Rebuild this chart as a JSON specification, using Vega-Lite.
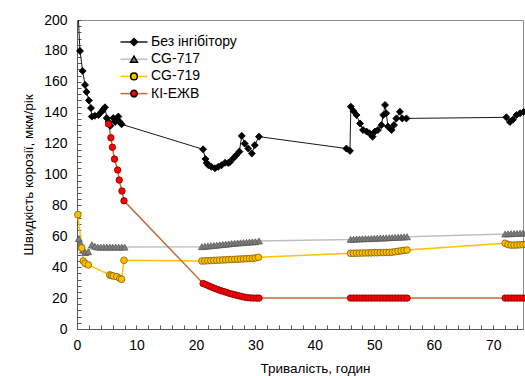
{
"$schema": "https://vega.github.io/schema/vega-lite/v6.json",
"width": 446, "height": 309,
"autosize": {"type": "none"},
"padding": {"left": 77, "top": 20, "right": 2, "bottom": 47},
"config": {
  "view": {"stroke": "#8c8c8c", "strokeWidth": 1},
  "font": "Liberation Sans",
  "legend": {"title": null, "padding": 0, "rowPadding": 3.2, "labelFontSize": 14, "labelFont": "Liberation Sans", "labelColor": "#000000", "orient": "none", "legendX": 50, "legendY": 15}
},
"data": {"values": [
{"s":"Без інгібітору","t":0.05,"v":215},{"s":"Без інгібітору","t":0.5,"v":180},{"s":"Без інгібітору","t":0.95,"v":167},{"s":"Без інгібітору","t":1.35,"v":158},{"s":"Без інгібітору","t":1.6,"v":153.5},{"s":"Без інгібітору","t":2.0,"v":148},{"s":"Без інгібітору","t":2.35,"v":143},{"s":"Без інгібітору","t":2.5,"v":137.5},{"s":"Без інгібітору","t":3.0,"v":138},{"s":"Без інгібітору","t":3.6,"v":138.5},{"s":"Без інгібітору","t":4.1,"v":140.5},{"s":"Без інгібітору","t":4.4,"v":142},{"s":"Без інгібітору","t":4.7,"v":143.5},{"s":"Без інгібітору","t":5.0,"v":136.5},{"s":"Без інгібітору","t":5.3,"v":134},{"s":"Без інгібітору","t":5.6,"v":131.5},{"s":"Без інгібітору","t":6.1,"v":136.5},{"s":"Без інгібітору","t":6.4,"v":134},{"s":"Без інгібітору","t":6.7,"v":135.5},{"s":"Без інгібітору","t":6.95,"v":137.5},{"s":"Без інгібітору","t":7.2,"v":134},{"s":"Без інгібітору","t":7.5,"v":132.5},
{"s":"Без інгібітору","t":21.2,"v":116.3},{"s":"Без інгібітору","t":21.6,"v":110},{"s":"Без інгібітору","t":21.8,"v":107.5},{"s":"Без інгібітору","t":22.1,"v":106},{"s":"Без інгібітору","t":22.6,"v":105},{"s":"Без інгібітору","t":23.2,"v":104},{"s":"Без інгібітору","t":23.75,"v":105},{"s":"Без інгібітору","t":24.3,"v":106},{"s":"Без інгібітору","t":24.9,"v":107.6},{"s":"Без інгібітору","t":25.4,"v":107.5},{"s":"Без інгібітору","t":25.7,"v":108},{"s":"Без інгібітору","t":26.3,"v":110.5},{"s":"Без інгібітору","t":26.8,"v":112.6},{"s":"Без інгібітору","t":27.3,"v":114.8},{"s":"Без інгібітору","t":27.7,"v":125},{"s":"Без інгібітору","t":28.2,"v":120},{"s":"Без інгібітору","t":28.8,"v":116.8},{"s":"Без інгібітору","t":29.4,"v":113.6},{"s":"Без інгібітору","t":29.9,"v":119},{"s":"Без інгібітору","t":30.6,"v":124.5},
{"s":"Без інгібітору","t":45.3,"v":116.8},{"s":"Без інгібітору","t":45.9,"v":115.3},{"s":"Без інгібітору","t":46.05,"v":143.9},{"s":"Без інгібітору","t":46.5,"v":141},{"s":"Без інгібітору","t":47.0,"v":138.5},{"s":"Без інгібітору","t":47.6,"v":133},{"s":"Без інгібітору","t":48.1,"v":128.8},{"s":"Без інгібітору","t":48.7,"v":127.8},{"s":"Без інгібітору","t":49.2,"v":126.6},{"s":"Без інгібітору","t":49.7,"v":124.5},{"s":"Без інгібітору","t":50.1,"v":127.8},{"s":"Без інгібітору","t":50.6,"v":128.8},{"s":"Без інгібітору","t":51.2,"v":132},{"s":"Без інгібітору","t":51.5,"v":138.5},{"s":"Без інгібітору","t":51.8,"v":145},{"s":"Без інгібітору","t":52.0,"v":139.6},{"s":"Без інгібітору","t":52.3,"v":131},{"s":"Без інгібітору","t":52.9,"v":128.8},{"s":"Без інгібітору","t":53.3,"v":132},{"s":"Без інгібітору","t":53.7,"v":136.3},{"s":"Без інгібітору","t":54.3,"v":140.6},{"s":"Без інгібітору","t":54.7,"v":136.3},{"s":"Без інгібітору","t":55.4,"v":136.3},
{"s":"Без інгібітору","t":72.2,"v":137},{"s":"Без інгібітору","t":72.8,"v":134},{"s":"Без інгібітору","t":73.3,"v":135.5},{"s":"Без інгібітору","t":73.9,"v":138.5},{"s":"Без інгібітору","t":74.5,"v":139.6},{"s":"Без інгібітору","t":75.1,"v":140.5},
{"s":"CG-717","t":0.3,"v":58.5},{"s":"CG-717","t":0.6,"v":55.5},{"s":"CG-717","t":1.0,"v":51},{"s":"CG-717","t":1.4,"v":49.5},{"s":"CG-717","t":1.9,"v":50},{"s":"CG-717","t":2.5,"v":54.5},{"s":"CG-717","t":3.0,"v":53.5},{"s":"CG-717","t":3.5,"v":53},{"s":"CG-717","t":4.0,"v":53},{"s":"CG-717","t":4.5,"v":53},{"s":"CG-717","t":5.0,"v":53},{"s":"CG-717","t":5.5,"v":53},{"s":"CG-717","t":6.0,"v":53},{"s":"CG-717","t":6.5,"v":53},{"s":"CG-717","t":7.0,"v":53},{"s":"CG-717","t":7.5,"v":53},{"s":"CG-717","t":8.0,"v":53},
{"s":"CG-717","t":21.0,"v":53.3},{"s":"CG-717","t":21.5,"v":53.5},{"s":"CG-717","t":22.0,"v":53.7},{"s":"CG-717","t":22.5,"v":53.9},{"s":"CG-717","t":23.0,"v":54.1},{"s":"CG-717","t":23.5,"v":54.3},{"s":"CG-717","t":24.0,"v":54.5},{"s":"CG-717","t":24.5,"v":54.7},{"s":"CG-717","t":25.0,"v":54.9},{"s":"CG-717","t":25.5,"v":55.1},{"s":"CG-717","t":26.0,"v":55.3},{"s":"CG-717","t":26.5,"v":55.5},{"s":"CG-717","t":27.0,"v":55.7},{"s":"CG-717","t":27.5,"v":55.8},{"s":"CG-717","t":28.0,"v":56},{"s":"CG-717","t":28.5,"v":56.1},{"s":"CG-717","t":29.0,"v":56.3},{"s":"CG-717","t":29.5,"v":56.4},{"s":"CG-717","t":30.0,"v":56.5},{"s":"CG-717","t":30.6,"v":57},
{"s":"CG-717","t":46.0,"v":58},{"s":"CG-717","t":46.5,"v":58.1},{"s":"CG-717","t":47.0,"v":58.2},{"s":"CG-717","t":47.5,"v":58.3},{"s":"CG-717","t":48.0,"v":58.4},{"s":"CG-717","t":48.5,"v":58.5},{"s":"CG-717","t":49.0,"v":58.5},{"s":"CG-717","t":49.5,"v":58.6},{"s":"CG-717","t":50.0,"v":58.7},{"s":"CG-717","t":50.5,"v":58.8},{"s":"CG-717","t":51.0,"v":58.9},{"s":"CG-717","t":51.5,"v":58.9},{"s":"CG-717","t":52.0,"v":59},{"s":"CG-717","t":52.5,"v":59.1},{"s":"CG-717","t":53.0,"v":59.2},{"s":"CG-717","t":53.5,"v":59.3},{"s":"CG-717","t":54.0,"v":59.4},{"s":"CG-717","t":54.5,"v":59.5},{"s":"CG-717","t":55.0,"v":59.6},{"s":"CG-717","t":55.5,"v":59.7},
{"s":"CG-717","t":72.0,"v":61.5},{"s":"CG-717","t":72.5,"v":61.6},{"s":"CG-717","t":73.0,"v":61.7},{"s":"CG-717","t":73.5,"v":61.8},{"s":"CG-717","t":74.0,"v":61.9},{"s":"CG-717","t":74.5,"v":62},{"s":"CG-717","t":75.0,"v":62.1},{"s":"CG-717","t":75.5,"v":62.2},
{"s":"CG-719","t":0.15,"v":74},{"s":"CG-719","t":0.8,"v":52.5},{"s":"CG-719","t":1.06,"v":44},{"s":"CG-719","t":1.35,"v":42.5},{"s":"CG-719","t":1.9,"v":41.5},{"s":"CG-719","t":5.5,"v":35},{"s":"CG-719","t":5.8,"v":34.6},{"s":"CG-719","t":6.1,"v":34.3},{"s":"CG-719","t":6.7,"v":33.9},{"s":"CG-719","t":7.2,"v":32.8},{"s":"CG-719","t":7.5,"v":32.2},{"s":"CG-719","t":7.9,"v":44.5},
{"s":"CG-719","t":21.0,"v":44.0},{"s":"CG-719","t":21.5,"v":44.1},{"s":"CG-719","t":22.0,"v":44.2},{"s":"CG-719","t":22.5,"v":44.3},{"s":"CG-719","t":23.0,"v":44.4},{"s":"CG-719","t":23.5,"v":44.5},{"s":"CG-719","t":24.0,"v":44.6},{"s":"CG-719","t":24.5,"v":44.7},{"s":"CG-719","t":25.0,"v":44.8},{"s":"CG-719","t":25.5,"v":44.9},{"s":"CG-719","t":26.0,"v":45.0},{"s":"CG-719","t":26.5,"v":45.1},{"s":"CG-719","t":27.0,"v":45.2},{"s":"CG-719","t":27.5,"v":45.3},{"s":"CG-719","t":28.0,"v":45.4},{"s":"CG-719","t":28.5,"v":45.5},{"s":"CG-719","t":29.0,"v":45.6},{"s":"CG-719","t":29.5,"v":45.7},{"s":"CG-719","t":30.0,"v":46.0},{"s":"CG-719","t":30.5,"v":46.4},
{"s":"CG-719","t":46.0,"v":49.0},{"s":"CG-719","t":46.5,"v":49.0},{"s":"CG-719","t":47.0,"v":49.1},{"s":"CG-719","t":47.5,"v":49.1},{"s":"CG-719","t":48.0,"v":49.2},{"s":"CG-719","t":48.5,"v":49.2},{"s":"CG-719","t":49.0,"v":49.3},{"s":"CG-719","t":49.5,"v":49.3},{"s":"CG-719","t":50.0,"v":49.4},{"s":"CG-719","t":50.5,"v":49.4},{"s":"CG-719","t":51.0,"v":49.5},{"s":"CG-719","t":51.5,"v":49.5},{"s":"CG-719","t":52.0,"v":49.6},{"s":"CG-719","t":52.5,"v":49.6},{"s":"CG-719","t":53.0,"v":49.7},{"s":"CG-719","t":53.5,"v":50.0},{"s":"CG-719","t":54.0,"v":50.3},{"s":"CG-719","t":54.5,"v":50.6},{"s":"CG-719","t":55.0,"v":50.9},{"s":"CG-719","t":55.5,"v":51.1},
{"s":"CG-719","t":72.0,"v":55.5},{"s":"CG-719","t":72.5,"v":54.6},{"s":"CG-719","t":73.0,"v":54.3},{"s":"CG-719","t":73.5,"v":54.3},{"s":"CG-719","t":74.0,"v":54.4},{"s":"CG-719","t":74.5,"v":54.5},{"s":"CG-719","t":75.0,"v":54.6},{"s":"CG-719","t":75.5,"v":54.7},
{"s":"КІ-ЕЖВ","t":5.3,"v":132.7},{"s":"КІ-ЕЖВ","t":5.7,"v":123.8},{"s":"КІ-ЕЖВ","t":5.95,"v":117.6},{"s":"КІ-ЕЖВ","t":6.3,"v":110},{"s":"КІ-ЕЖВ","t":6.84,"v":102.9},{"s":"КІ-ЕЖВ","t":7.1,"v":96.4},{"s":"КІ-ЕЖВ","t":7.56,"v":89.3},{"s":"КІ-ЕЖВ","t":7.9,"v":83},
{"s":"КІ-ЕЖВ","t":21.2,"v":29.5},{"s":"КІ-ЕЖВ","t":21.7,"v":28.7},{"s":"КІ-ЕЖВ","t":22.2,"v":27.8},{"s":"КІ-ЕЖВ","t":22.7,"v":27},{"s":"КІ-ЕЖВ","t":23.2,"v":26.2},{"s":"КІ-ЕЖВ","t":23.7,"v":25.5},{"s":"КІ-ЕЖВ","t":24.2,"v":24.8},{"s":"КІ-ЕЖВ","t":24.7,"v":24.2},{"s":"КІ-ЕЖВ","t":25.2,"v":23.6},{"s":"КІ-ЕЖВ","t":25.7,"v":23},{"s":"КІ-ЕЖВ","t":26.2,"v":22.5},{"s":"КІ-ЕЖВ","t":26.7,"v":22},{"s":"КІ-ЕЖВ","t":27.2,"v":21.5},{"s":"КІ-ЕЖВ","t":27.7,"v":21},{"s":"КІ-ЕЖВ","t":28.2,"v":20.6},{"s":"КІ-ЕЖВ","t":28.7,"v":20.3},{"s":"КІ-ЕЖВ","t":29.2,"v":20.1},{"s":"КІ-ЕЖВ","t":29.7,"v":20},{"s":"КІ-ЕЖВ","t":30.2,"v":20},{"s":"КІ-ЕЖВ","t":30.6,"v":20},
{"s":"КІ-ЕЖВ","t":46.0,"v":20},{"s":"КІ-ЕЖВ","t":46.5,"v":20},{"s":"КІ-ЕЖВ","t":47.0,"v":20},{"s":"КІ-ЕЖВ","t":47.5,"v":20},{"s":"КІ-ЕЖВ","t":48.0,"v":20},{"s":"КІ-ЕЖВ","t":48.5,"v":20},{"s":"КІ-ЕЖВ","t":49.0,"v":20},{"s":"КІ-ЕЖВ","t":49.5,"v":20},{"s":"КІ-ЕЖВ","t":50.0,"v":20},{"s":"КІ-ЕЖВ","t":50.5,"v":20},{"s":"КІ-ЕЖВ","t":51.0,"v":20},{"s":"КІ-ЕЖВ","t":51.5,"v":20},{"s":"КІ-ЕЖВ","t":52.0,"v":20},{"s":"КІ-ЕЖВ","t":52.5,"v":20},{"s":"КІ-ЕЖВ","t":53.0,"v":20},{"s":"КІ-ЕЖВ","t":53.5,"v":20},{"s":"КІ-ЕЖВ","t":54.0,"v":20},{"s":"КІ-ЕЖВ","t":54.5,"v":20},{"s":"КІ-ЕЖВ","t":55.0,"v":20},{"s":"КІ-ЕЖВ","t":55.5,"v":20},
{"s":"КІ-ЕЖВ","t":72.0,"v":20},{"s":"КІ-ЕЖВ","t":72.5,"v":20},{"s":"КІ-ЕЖВ","t":73.0,"v":20},{"s":"КІ-ЕЖВ","t":73.5,"v":20},{"s":"КІ-ЕЖВ","t":74.0,"v":20},{"s":"КІ-ЕЖВ","t":74.5,"v":20},{"s":"КІ-ЕЖВ","t":75.0,"v":20},{"s":"КІ-ЕЖВ","t":75.5,"v":20}
]},
"encoding": {
  "x": {"field": "t", "type": "quantitative", "scale": {"domain": [0, 75], "nice": false, "zero": false},
    "axis": {"values": [0,2,4,6,8,10,12,14,16,18,20,22,24,26,28,30,32,34,36,38,40,42,44,46,48,50,52,54,56,58,60,62,64,66,68,70,72,74],
      "labelExpr": "datum.value % 10 === 0 ? datum.label : ''", "grid": false, "tickSize": -4, "labelPadding": 13, "labelFlush": false, "labelOverlap": false,
      "domainColor": "#595959", "tickColor": "#595959", "labelFontSize": 14, "labelColor": "#000000", "labelFont": "Liberation Sans",
      "title": "Тривалість, годин", "titleFontSize": 13.5, "titleFontWeight": "normal", "titleFont": "Liberation Sans", "titleColor": "#000000", "titlePadding": 9.5, "titleX": 238}},
  "y": {"field": "v", "type": "quantitative", "scale": {"domain": [0, 200], "nice": false},
    "axis": {"values": [0,4,8,12,16,20,24,28,32,36,40,44,48,52,56,60,64,68,72,76,80,84,88,92,96,100,104,108,112,116,120,124,128,132,136,140,144,148,152,156,160,164,168,172,176,180,184,188,192,196,200],
      "labelExpr": "datum.value % 20 === 0 ? datum.label : ''", "grid": false, "tickSize": -4, "labelPadding": 14, "labelFlush": false, "labelOverlap": false,
      "domainColor": "#595959", "tickColor": "#595959", "labelFontSize": 14, "labelColor": "#000000", "labelFont": "Liberation Sans",
      "title": "Швидкість корозії, мкм/рік", "titleFontSize": 13.5, "titleFontWeight": "normal", "titleFont": "Liberation Sans", "titleColor": "#000000", "titlePadding": 8}}
},
"layer": [
  {"mark": {"type": "line", "clip": true},
   "encoding": {
     "stroke": {"field": "s", "type": "nominal",
       "sort": ["Без інгібітору", "CG-717", "CG-719", "КІ-ЕЖВ"],
       "scale": {"range": ["#1a1a1a", "#bfbfbf", "#ffc000", "#c46c3e"]},
       "legend": {"symbolType": "M-3,0H3", "symbolSize": 81, "symbolStrokeWidth": 1.5, "labelOffset": 10}},
     "strokeWidth": {"condition": [{"test": "datum.s === 'Без інгібітору'", "value": 1}], "value": 1.5}
   }},
  {"transform": [{"filter": "datum.v <= 200"}],
   "mark": {"type": "point", "filled": true, "opacity": 1, "strokeWidth": 0.8},
   "encoding": {
     "fill": {"field": "s", "type": "nominal",
       "scale": {"domain": ["Без інгібітору", "CG-717", "CG-719", "КІ-ЕЖВ"], "range": ["#000000", "#7f7f7f", "#ffc000", "#ff0000"]},
       "legend": {"labelExpr": "' '",
         "encode": {"symbols": {"update": {
           "stroke": {"signal": "datum.value === 'CG-719' ? '#7f6000' : datum.value === 'КІ-ЕЖВ' ? '#7f0000' : datum.value === 'CG-717' ? '#595959' : '#000000'"},
           "strokeWidth": {"value": 0.8}}}}}},
     "shape": {"field": "s", "type": "nominal",
       "scale": {"domain": ["Без інгібітору", "CG-717", "CG-719", "КІ-ЕЖВ"], "range": ["diamond", "triangle-up", "circle", "circle"]},
       "legend": {"labelExpr": "' '"}},
     "size": {"field": "s", "type": "nominal",
       "scale": {"domain": ["Без інгібітору", "CG-717", "CG-719", "КІ-ЕЖВ"], "range": [50, 42, 52, 68]},
       "legend": {"labelExpr": "' '"}},
     "stroke": {"condition": [{"test": "datum.s === 'CG-719'", "value": "#7f6000"}, {"test": "datum.s === 'КІ-ЕЖВ'", "value": "#7f0000"}, {"test": "datum.s === 'CG-717'", "value": "#595959"}], "value": "#000000"}
   }}
]
}
